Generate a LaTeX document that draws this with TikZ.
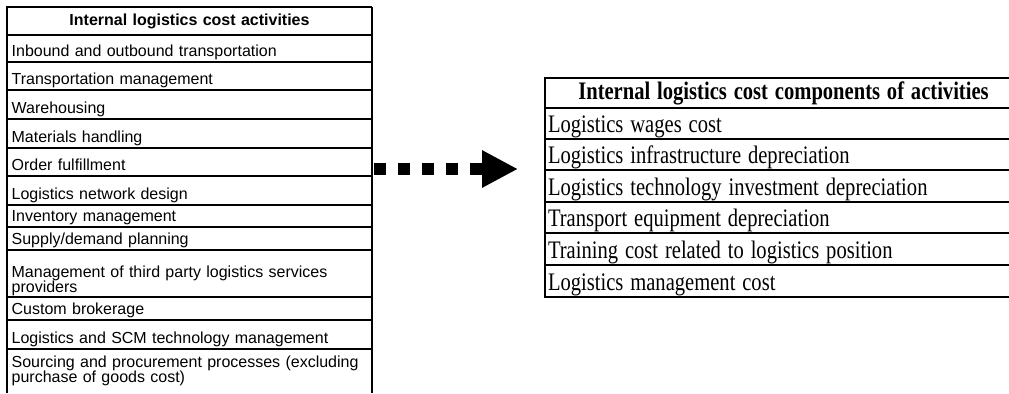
\documentclass[tikz,border=0pt]{standalone}
\usepackage{graphicx}
\usepackage{fontspec}
\setmainfont{Liberation Serif}
\newfontfamily\arialfont{Liberation Sans}
\usetikzlibrary{arrows.meta}

\newcommand{\tallrow}[1]{\scalebox{0.98}[1.2]{#1}}

\tikzstyle{actcell} = [anchor=south west, inner xsep=3.5pt, inner ysep=1pt, outer sep=0pt, text width=266.75pt, align=left, text depth=3.5pt, font=\arialfont\fontsize{12}{11.25}\selectfont]
\tikzstyle{acthead} = [actcell, anchor=north west, align=center, minimum height=21pt, text depth=, font=\arialfont\bfseries\fontsize{12}{11.25}\selectfont]
\tikzstyle{compcell} = [anchor=south west, inner xsep=2.25pt, inner ysep=1pt, outer sep=0pt, text width=353.25pt, align=left, text depth=4pt, font=\fontsize{15.75}{17}\selectfont]
\tikzstyle{comphead} = [compcell, anchor=north west, align=center, minimum height=22.5pt, text depth=, font=\bfseries\fontsize{15.75}{17}\selectfont]

\begin{document}
\begin{tikzpicture}[x=0.75pt,y=-0.75pt]
  \useasboundingbox (0,0) rectangle (1009,393);

  % activities table
  \node[acthead] (acthead) at (7,7) {Internal logistics cost activities};
  \node[actcell] (inbound) at (7,62) {Inbound and outbound transportation};
  \node[actcell] (transport) at (7,90) {Transportation management};
  \node[actcell] (warehouse) at (7,119) {Warehousing};
  \node[actcell] (materials) at (7,148) {Materials handling};
  \node[actcell] (order) at (7,176) {Order fulfillment};
  \node[actcell] (network) at (7,205) {Logistics network design};
  \node[actcell] (inventory) at (7,227) {Inventory management};
  \node[actcell] (planning) at (7,250) {Supply/demand planning};
  \node[actcell,text depth=] (thirdparty) at (7,297) {Management of third party logistics services providers};
  \node[actcell] (brokerage) at (7,320) {Custom brokerage};
  \node[actcell] (scm) at (7,349) {Logistics and SCM technology management};
  \node[actcell,anchor=north west,text depth=,minimum height=33pt] (sourcing) at (7,349) {Sourcing and procurement processes (excluding purchase of goods cost)};

  % components table
  \node[comphead] (comphead) at (545,78) {\tallrow{Internal logistics cost components of activities}};
  \node[compcell] (wages) at (545,139) {\tallrow{Logistics wages cost}};
  \node[compcell] (infra) at (545,170) {\tallrow{Logistics infrastructure depreciation}};
  \node[compcell] (techinv) at (545,202) {\tallrow{Logistics technology investment depreciation}};
  \node[compcell] (equipment) at (545,233) {\tallrow{Transport equipment depreciation}};
  \node[compcell] (training) at (545,265) {\tallrow{Training cost related to logistics position}};
  \node[compcell] (mgmt) at (545,297) {\tallrow{Logistics management cost}};

  \begin{scope}[line width=1.5pt]
    \draw (acthead.north east) -- (acthead.north west) -- (sourcing.south west);
    \draw (acthead.north east) -- (sourcing.south east);
    \foreach \n in {acthead,inbound,transport,warehouse,materials,order,network,inventory,planning,thirdparty,brokerage,scm}
      \draw (\n.south west) -- (\n.south east);
  \end{scope}

  \begin{scope}[line width=1.8pt]
    \draw (comphead.north east) -- (comphead.north west) -- (mgmt.south west) -- (mgmt.south east);
    \foreach \n in {comphead,wages,infra,techinv,equipment,training}
      \draw (\n.south west) -- (\n.south east);
  \end{scope}

  % dotted block arrow between the tables
  \coordinate (tail) at (374,169);
  \coordinate (tip) at (518,169);
  \draw[line width=9pt, dash pattern=on 9pt off 9pt, -{Triangle[length=27pt,width=26.25pt]}] (tail) -- (tip);
\end{tikzpicture}
\end{document}
